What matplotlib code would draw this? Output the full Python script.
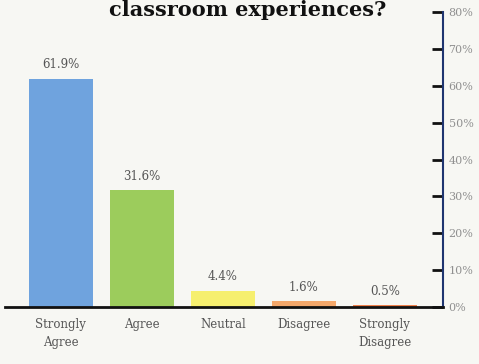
import matplotlib.pyplot as plt

categories = ['Strongly\nAgree', 'Agree', 'Neutral', 'Disagree', 'Strongly\nDisagree']
values = [61.9, 31.6, 4.4, 1.6, 0.5]
colors = ['#6fa3de', '#9ccc5c', '#f6ef6e', '#f5a86a', '#f0804a']
yticks = [0, 10, 20, 30, 40, 50, 60, 70, 80]

plt.rcParams['font.family'] = ['DejaVu Serif']

fig = plt.figure(figsize=(4.79, 3.64), dpi=100)
fig.patch.set_facecolor('#f7f7f3')
ax = fig.add_axes([5 / 479, 1 - 307 / 364, 438 / 479, 295 / 364])
ax.set_facecolor('none')

x = list(range(len(categories)))
bars = ax.bar(x, values, width=0.79, color=colors, zorder=2)

for xi, v in zip(x, values):
    ax.text(xi, v + 2.0, f'{v}%', ha='center', va='bottom', fontsize=8.5, color='#555555')

ax.set_xlim(-0.69, 4.72)
ax.set_ylim(0, 80)

ax.yaxis.tick_right()
ax.set_yticks(yticks)
ax.set_yticklabels([f'{t}%' for t in yticks], fontsize=8, color='#909090')
ax.tick_params(axis='y', direction='in', length=8, width=2, color='#111111', pad=4)
ax.set_xticks(x)
ax.set_xticklabels(categories, fontsize=8.5, color='#555555', linespacing=1.5)
ax.tick_params(axis='x', length=0, pad=8)

for s in ['top', 'left']:
    ax.spines[s].set_visible(False)
ax.spines['right'].set_color('#1f3570')
ax.spines['right'].set_linewidth(1.5)
ax.spines['bottom'].set_color('#111111')
ax.spines['bottom'].set_linewidth(2)

fig.text(248 / 479, 1 - 16 / 364, 'classroom experiences?', ha='center', va='baseline',
         fontsize=15, fontweight='bold', color='#111111')

plt.savefig('out.png', dpi=100, facecolor=fig.get_facecolor())
